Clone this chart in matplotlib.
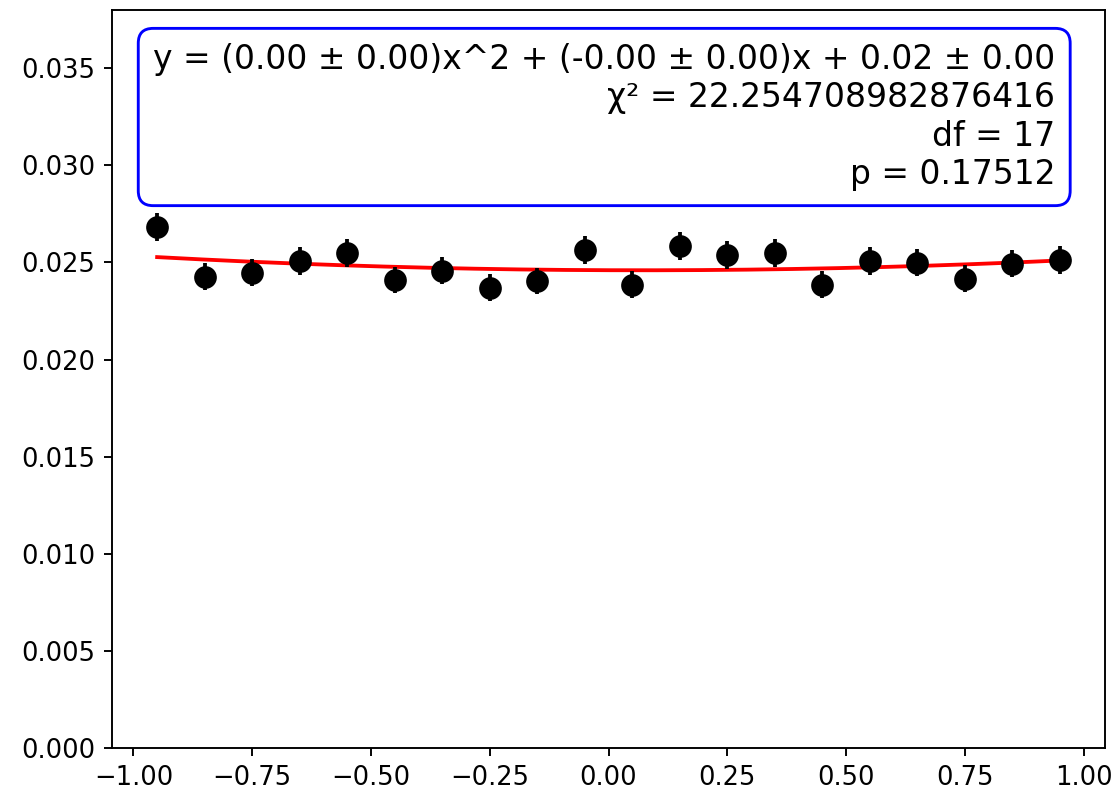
import numpy as np
import matplotlib
matplotlib.use("Agg")
import matplotlib.pyplot as plt

x_vals = [-0.95, -0.85, -0.75, -0.65, -0.55, -0.45, -0.35, -0.25, -0.15, -0.05,
          0.05, 0.15, 0.25, 0.35, 0.45, 0.55, 0.65, 0.75, 0.85, 0.95]
y_vals = [0.02683, 0.02426, 0.02447, 0.02508, 0.02551, 0.02410, 0.02457, 0.02371, 0.02405, 0.02562,
          0.02385, 0.02585, 0.02539, 0.02549, 0.02385, 0.02508, 0.02498, 0.02416, 0.02493, 0.02513]
y_errs = [0.00074, 0.00069, 0.00070, 0.00071, 0.00072, 0.00069, 0.00070, 0.00069, 0.00069, 0.00072,
          0.00069, 0.00072, 0.00071, 0.00071, 0.00069, 0.00071, 0.00070, 0.00069, 0.00070, 0.00071]

fit_text = ("y = (0.00 ± 0.00)x^2 + (-0.00 ± 0.00)x + 0.02 ± 0.00\n"
            "χ² = 22.254708982876416\n"
            "df = 17\n"
            "p = 0.17512")

x = np.array(x_vals)
y = np.array(y_vals)
e = np.array(y_errs)
coef = np.polyfit(x, y, 2, w=1.0 / e)
xf = np.linspace(x.min(), x.max(), 200)
yf = np.polyval(coef, xf)

dpi = 172
fig = plt.figure(figsize=(1116 / dpi, 798 / dpi), dpi=dpi)
ax = fig.add_axes([112 / 1116, 1 - 748 / 798, (1105 - 112) / 1116, (748 - 10) / 798])

ax.errorbar(x, y, yerr=e, fmt='o', color='black', markersize=8.5, elinewidth=1.6, zorder=3)
ax.plot(xf, yf, color='red', linewidth=1.6, zorder=2)

ax.set_ylim(0, 0.038)
ax.set_xlim(-1.045, 1.045)
ax.tick_params(labelsize=10.8)

ax.text(0.95, 0.955, fit_text, transform=ax.transAxes, ha='right', va='top',
        multialignment='right', fontsize=13.8,
        bbox=dict(boxstyle='round,pad=0.45', facecolor='white', edgecolor='blue', linewidth=1.2))

fig.savefig("out.png", dpi=dpi)
